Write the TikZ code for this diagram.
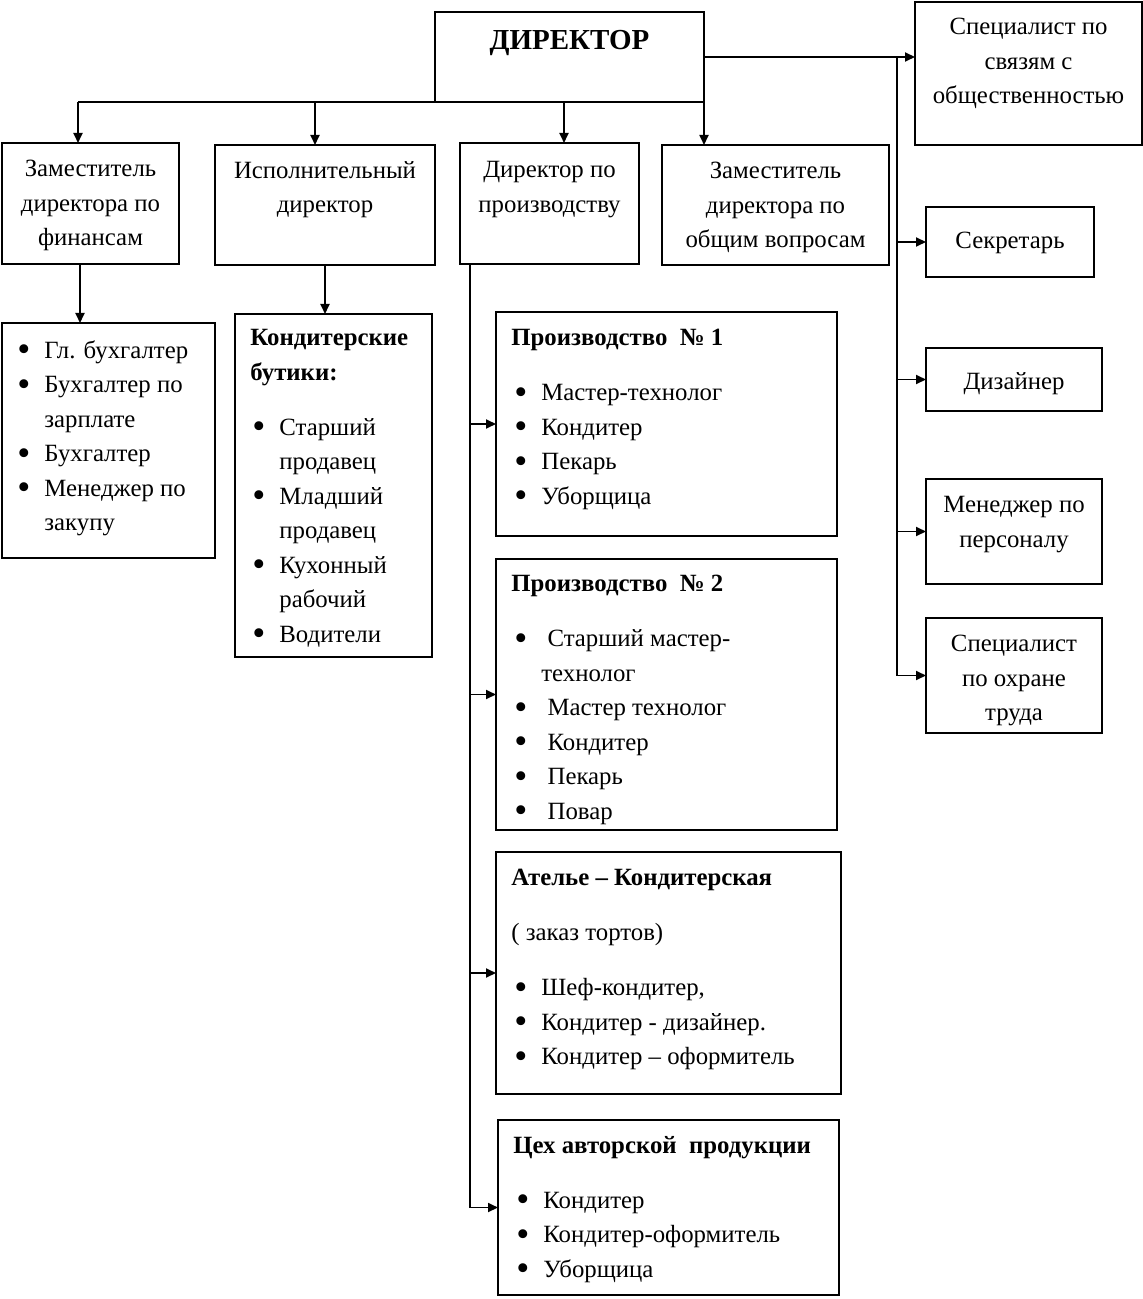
\documentclass[tikz,border=0pt]{standalone}
\usepackage{fontspec}
\usepackage{graphicx}
\setmainfont{Liberation Serif}
\usetikzlibrary{arrows.meta}

\newcommand{\itm}{\makebox[13.5pt][l]{\raisebox{-1.7pt}{\scalebox{1.5}{\textbullet}}}}
\newcommand{\cnt}{\hspace*{13.5pt}}

\tikzset{
  box/.style={draw, line width=1pt, inner sep=0pt, outer sep=0pt, anchor=north west},
  txt/.style={inner sep=0pt, align=center, anchor=north,
              font=\fontsize{12.4}{17.25}\selectfont, execute at begin node=\strut},
  lst/.style={inner sep=0pt, align=left, anchor=north west,
              font=\fontsize{12.4}{17.25}\selectfont, execute at begin node=\strut},
  link/.style={line width=0.9pt},
  arr/.style={line width=0.9pt, -{Triangle[length=5pt,width=4.5pt]}}
}

\begin{document}
\begin{tikzpicture}[x=0.5pt, y=-0.5pt]
  \useasboundingbox (0,0) rectangle (1143,1299);

  % ---------- top level ----------
  \node[box, minimum width=134.5pt, minimum height=45pt] (dir) at (435,12) {};
  \node[inner sep=0pt, anchor=base, font=\fontsize{14.5}{16}\selectfont\bfseries] (tdir) at (569.5,50) {ДИРЕКТОР};

  \node[box, minimum width=113.5pt, minimum height=71.5pt] (pr) at (915,2) {};
  \node[txt] (tpr) at (1028.5,18) {Специалист по\\связям с\\общественностью};

  % ---------- second row ----------
  \node[box, minimum width=88.5pt, minimum height=60.5pt] (findep) at (2,143) {};
  \node[txt] (tfindep) at (90.5,160) {Заместитель\\директора по\\финансам};

  \node[box, minimum width=110pt, minimum height=60pt] (exec) at (215,145) {};
  \node[txt] (texec) at (325,161) {Исполнительный\\директор};

  \node[box, minimum width=89.5pt, minimum height=60.5pt] (proddir) at (460,143) {};
  \node[txt] (tproddir) at (549.5,161) {Директор по\\производству};

  \node[box, minimum width=113.5pt, minimum height=60pt] (gendep) at (662,145) {};
  \node[txt] (tgendep) at (775.5,162) {Заместитель\\директора по\\общим вопросам};

  % ---------- right column ----------
  \node[box, minimum width=84pt, minimum height=35pt] (sec) at (926,207) {};
  \node[txt] (tsec) at (1010,224) {Секретарь};

  \node[box, minimum width=88pt, minimum height=31.5pt] (des) at (926,348) {};
  \node[txt] (tdes) at (1014,365) {Дизайнер};

  \node[box, minimum width=88pt, minimum height=52.5pt] (hr) at (926,479) {};
  \node[txt] (thr) at (1014,496) {Менеджер по\\персоналу};

  \node[box, minimum width=88pt, minimum height=57.5pt] (safe) at (926,618) {};
  \node[txt] (tsafe) at (1014,635) {Специалист\\по охране\\труда};

  % ---------- lists ----------
  \node[box, minimum width=106.5pt, minimum height=117.5pt] (finlist) at (2,323) {};
  \node[lst] (tfinlist) at (17,340) {\itm Гл. бухгалтер\\
    \itm Бухгалтер по\\ \cnt зарплате\\
    \itm Бухгалтер\\
    \itm Менеджер по\\ \cnt закупу};

  \node[box, minimum width=98.5pt, minimum height=171.5pt] (bout) at (235,314) {};
  \node[lst] (tbout) at (250,329) {\textbf{Кондитерские}\\ \textbf{бутики:}\\[10.25pt]
    \hspace*{1pt}\itm Старший\\ \hspace*{1pt}\cnt продавец\\
    \hspace*{1pt}\itm Младший\\ \hspace*{1pt}\cnt продавец\\
    \hspace*{1pt}\itm Кухонный\\ \hspace*{1pt}\cnt рабочий\\
    \hspace*{1pt}\itm Водители};

  \node[box, minimum width=170.5pt, minimum height=112pt] (p1) at (496,312) {};
  \node[lst] (tp1) at (511,329) {\textbf{Производство\ \ № 1}\\[10.25pt]
    \hspace*{1.5pt}\itm Мастер-технолог\\
    \hspace*{1.5pt}\itm Кондитер\\
    \hspace*{1.5pt}\itm Пекарь\\
    \hspace*{1.5pt}\itm Уборщица};

  \node[box, minimum width=170.5pt, minimum height=135.5pt] (p2) at (496,559) {};
  \node[lst] (tp2) at (511,575) {\textbf{Производство\ \ № 2}\\[10.25pt]
    \hspace*{1.5pt}\itm\ Старший мастер-\\ \hspace*{1.5pt}\cnt технолог\\
    \hspace*{1.5pt}\itm\ Мастер технолог\\
    \hspace*{1.5pt}\itm\ Кондитер\\
    \hspace*{1.5pt}\itm\ Пекарь\\
    \hspace*{1.5pt}\itm\ Повар};

  \node[box, minimum width=172.5pt, minimum height=121pt] (atel) at (496,852) {};
  \node[lst] (tatel) at (511,869) {\textbf{Ателье – Кондитерская}\\[10.25pt]
    ( заказ тортов)\\[10.25pt]
    \hspace*{1.5pt}\itm Шеф-кондитер,\\
    \hspace*{1.5pt}\itm Кондитер - дизайнер.\\
    \hspace*{1.5pt}\itm Кондитер – оформитель};

  \node[box, minimum width=170.5pt, minimum height=87.5pt] (ceh) at (498,1120) {};
  \node[lst] (tceh) at (513,1136) {\textbf{Цех авторской\ \ продукции}\\[10.25pt]
    \hspace*{1.5pt}\itm Кондитер\\
    \hspace*{1.5pt}\itm Кондитер-оформитель\\
    \hspace*{1.5pt}\itm Уборщица};

  % ---------- director bus ----------
  \coordinate (b1) at (78,102);
  \coordinate (b2) at (315,102);
  \coordinate (b3) at (564,102);
  \draw[link] (b1) -- (dir.south west);
  \draw[arr] (b1) -- (b1 |- findep.north);
  \draw[arr] (b2) -- (b2 |- exec.north);
  \draw[arr] (b3) -- (b3 |- proddir.north);
  \draw[arr] (dir.south east) -- (dir.south east |- gendep.north);

  % ---------- right spine ----------
  \draw[arr] (dir.east) -- (dir.east -| pr.west);
  \coordinate (rs) at ([xshift=-9pt]dir.east -| pr.west);
  \draw[link] (rs) -- (rs |- safe.west);
  \foreach \n in {sec,des,hr,safe}
    \draw[arr] (rs |- \n.west) -- (\n.west);

  % ---------- down to lists ----------
  \coordinate (fd) at ([xshift=-5.25pt]findep.south);
  \draw[arr] (fd) -- (fd |- finlist.north);
  \draw[arr] (exec.south) -- (exec.south |- bout.north);

  % ---------- production spine ----------
  \coordinate (ps) at ([xshift=5pt]proddir.south west);
  \draw[link] (ps) -- (ps |- ceh.west);
  \foreach \n in {p1,p2,atel,ceh}
    \draw[arr] (ps |- \n.west) -- (\n.west);

\end{tikzpicture}
\end{document}
